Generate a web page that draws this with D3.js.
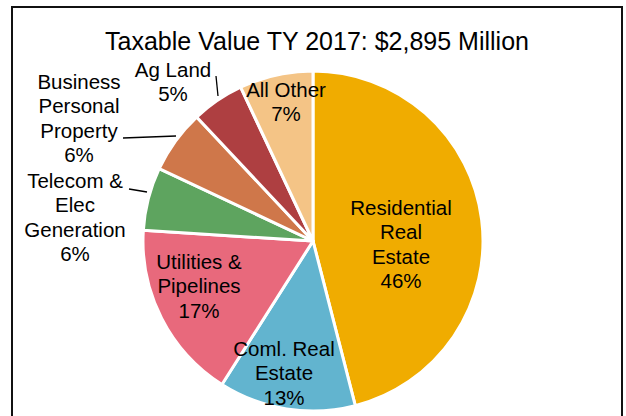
<!DOCTYPE html>
<html><head><meta charset="utf-8">
<script src="https://cdn.jsdelivr.net/npm/d3@7"></script>
<style>html,body{margin:0;padding:0;background:#fff;}svg{display:block;}</style>
</head><body>
<svg id="chart" width="626" height="416"></svg>
<script>
const title = "Taxable Value TY 2017: $2,895 Million";
const categories = ["Residential Real Estate","Coml. Real Estate","Utilities & Pipelines","Telecom & Elec Generation","Business Personal Property","Ag Land","All Other"];
const values = [46, 13, 17, 6, 6, 5, 7];
const labelLines = [
  ["Residential","Real","Estate","46%"],
  ["Coml. Real","Estate","13%"],
  ["Utilities &","Pipelines","17%"],
  ["Telecom &","Elec","Generation","6%"],
  ["Business","Personal","Property","6%"],
  ["Ag Land","5%"],
  ["All Other","7%"]
];
const colors = ["#F0AC00","#62B4CF","#E8697C","#5EA45F","#CF774A","#AE3F41","#F4C486"];

const svg = d3.select("#chart");
svg.append("rect").attr("x",12).attr("y",7).attr("width",610).attr("height",420)
  .attr("fill","#fff").attr("stroke","#111").attr("stroke-width",2);

svg.append("text").attr("x",317).attr("y",50).attr("text-anchor","middle")
  .attr("font-family","Liberation Sans, Arial, sans-serif").attr("font-size",25)
  .attr("fill","#000").text(title);

const cx = 313, cy = 241, r = 170;
const pie = d3.pie().sort(null).value(d => d)(values);
const arc = d3.arc().innerRadius(0).outerRadius(r);
const g = svg.append("g").attr("transform",`translate(${cx},${cy})`);
g.selectAll("path").data(pie).enter().append("path")
  .attr("d",arc).attr("fill",(d,i)=>colors[i])
  .attr("stroke","#fff").attr("stroke-width",3).attr("stroke-linejoin","round");

// label anchors (center x, first baseline) relative to page
const labelPos = [[401,215],[284,356],[199,269],[75,188],[79,89],[173,77],[286,97]];
const lh = 24.3;
labelLines.forEach((lines,i)=>{
  const t = svg.append("text").attr("text-anchor","middle")
    .attr("font-family","Liberation Sans, Arial, sans-serif").attr("font-size",20.5).attr("fill","#000");
  lines.forEach((s,j)=>{
    t.append("tspan").attr("x",labelPos[i][0]).attr("y",labelPos[i][1]+j*lh).text(s);
  });
});

// leader lines
const leaders = [
  [[129,189],[147,192]],
  [[123,138],[176,136]],
  [[216,76],[218,96]]
];
const line = d3.line();
leaders.forEach(p=>{
  svg.append("path").attr("d",line(p)).attr("stroke","#000").attr("stroke-width",1.3).attr("fill","none");
});
</script>
</body></html>
